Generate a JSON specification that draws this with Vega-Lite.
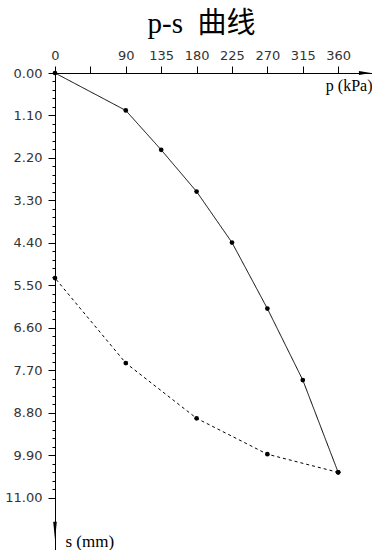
{
  "$schema": "https://vega.github.io/schema/vega-lite/v6.json",
  "autosize": "none",
  "padding": {"left": 55, "top": 73, "right": 0, "bottom": 0},
  "width": 317,
  "height": 477,
  "background": "white",
  "title": {
    "text": "p-s\u00a0\u00a0曲线",
    "font": "Liberation Serif, Noto Sans CJK SC",
    "fontSize": 29,
    "fontWeight": "normal",
    "color": "black",
    "offset": 10,
    "dx": -12
  },
  "config": {"view": {"stroke": null}},
  "datasets": {
    "ps": [
      {"p": 0, "s": 0, "branch": "load", "k": 1},
      {"p": 90, "s": 0.97, "branch": "load", "k": 2},
      {"p": 135, "s": 1.99, "branch": "load", "k": 3},
      {"p": 180, "s": 3.07, "branch": "load", "k": 4},
      {"p": 225, "s": 4.39, "branch": "load", "k": 5},
      {"p": 270, "s": 6.1, "branch": "load", "k": 6},
      {"p": 315, "s": 7.95, "branch": "load", "k": 7},
      {"p": 360, "s": 10.34, "branch": "load", "k": 8},
      {"p": 360, "s": 10.34, "branch": "unload", "k": 1},
      {"p": 270, "s": 9.87, "branch": "unload", "k": 2},
      {"p": 180, "s": 8.94, "branch": "unload", "k": 3},
      {"p": 90, "s": 7.51, "branch": "unload", "k": 4},
      {"p": 0, "s": 5.31, "branch": "unload", "k": 5}
    ]
  },
  "encoding": {
    "x": {
      "field": "p", "type": "quantitative",
      "scale": {"domain": [0, 403], "nice": false, "zero": true},
      "axis": {
        "orient": "top",
        "grid": false,
        "domainColor": "black",
        "tickColor": "black",
        "labelColor": "#333",
        "labelFont": "DejaVu Sans",
        "labelFontSize": 13,
        "titleFont": "Liberation Serif",
        "titleFontSize": 16,
        "titleFontWeight": "normal",
        "titleColor": "black",
        "labelOverlap": false,
        "labelFlush": false,
        "labelBound": false,
        "title": "p (kPa)",
        "values": [0, 45, 90, 135, 180, 225, 270, 315, 360],
        "labelExpr": "datum.value == 45 ? '' : datum.label",
        "tickSize": 7,
        "labelPadding": 4,
        "titleAnchor": "end",
        "titleAlign": "right",
        "titleBaseline": "alphabetic",
        "titleX": 317,
        "titleY": 17,
        "titleAngle": 0
      }
    },
    "y": {
      "field": "s", "type": "quantitative",
      "scale": {"domain": [0, 12.35], "nice": false, "reverse": true},
      "axis": {
        "orient": "left",
        "grid": false,
        "domainColor": "black",
        "tickColor": "black",
        "labelColor": "#333",
        "labelFont": "DejaVu Sans",
        "labelFontSize": 13,
        "titleFont": "Liberation Serif",
        "titleFontSize": 17,
        "titleFontWeight": "normal",
        "titleColor": "black",
        "labelOverlap": false,
        "labelFlush": false,
        "labelBound": false,
        "title": "s (mm)",
        "values": [0,0.22,0.44,0.66,0.88,1.1,1.32,1.54,1.76,1.98,2.2,2.42,2.64,2.86,3.08,3.3,3.52,3.74,3.96,4.18,4.4,4.62,4.84,5.06,5.28,5.5,5.72,5.94,6.16,6.38,6.6,6.82,7.04,7.26,7.48,7.7,7.92,8.14,8.36,8.58,8.8,9.02,9.24,9.46,9.68,9.9,10.12,10.34,10.56,10.78,11],
        "labelExpr": "abs(datum.value/1.1 - round(datum.value/1.1)) < 0.01 ? format(datum.value, '.2f') : ''",
        "tickSize": {"condition": {"test": "abs(datum.value/1.1 - round(datum.value/1.1)) < 0.01", "value": 7}, "value": 3},
        "labelPadding": 6,
        "titleAngle": 0,
        "titleAlign": "left",
        "titleBaseline": "alphabetic",
        "titleX": 10,
        "titleY": 473
      }
    }
  },
  "layer": [
    {
      "data": {"name": "ps"},
      "mark": {"type": "line", "color": "black", "strokeWidth": 1},
      "encoding": {
        "detail": {"field": "branch"},
        "order": {"field": "k"},
        "strokeDash": {
          "field": "branch", "type": "nominal",
          "scale": {"domain": ["load", "unload"], "range": [[1, 0], [3, 3]]},
          "legend": null
        }
      }
    },
    {
      "data": {"name": "ps"},
      "mark": {"type": "point", "filled": true, "color": "black", "size": 22, "opacity": 1}
    },
    {
      "data": {"values": [{"p": 394, "s": 0}]},
      "mark": {"type": "point", "filled": true, "color": "black", "opacity": 1, "size": 144, "shape": "M-1,-0.35L1,0L-1,0.35Z"}
    },
    {
      "data": {"values": [{"p": 0, "s": 11.85}]},
      "mark": {"type": "point", "filled": true, "color": "black", "opacity": 1, "size": 324, "shape": "M-0.2,-1L0,1L0.2,-1Z"}
    }
  ]
}
